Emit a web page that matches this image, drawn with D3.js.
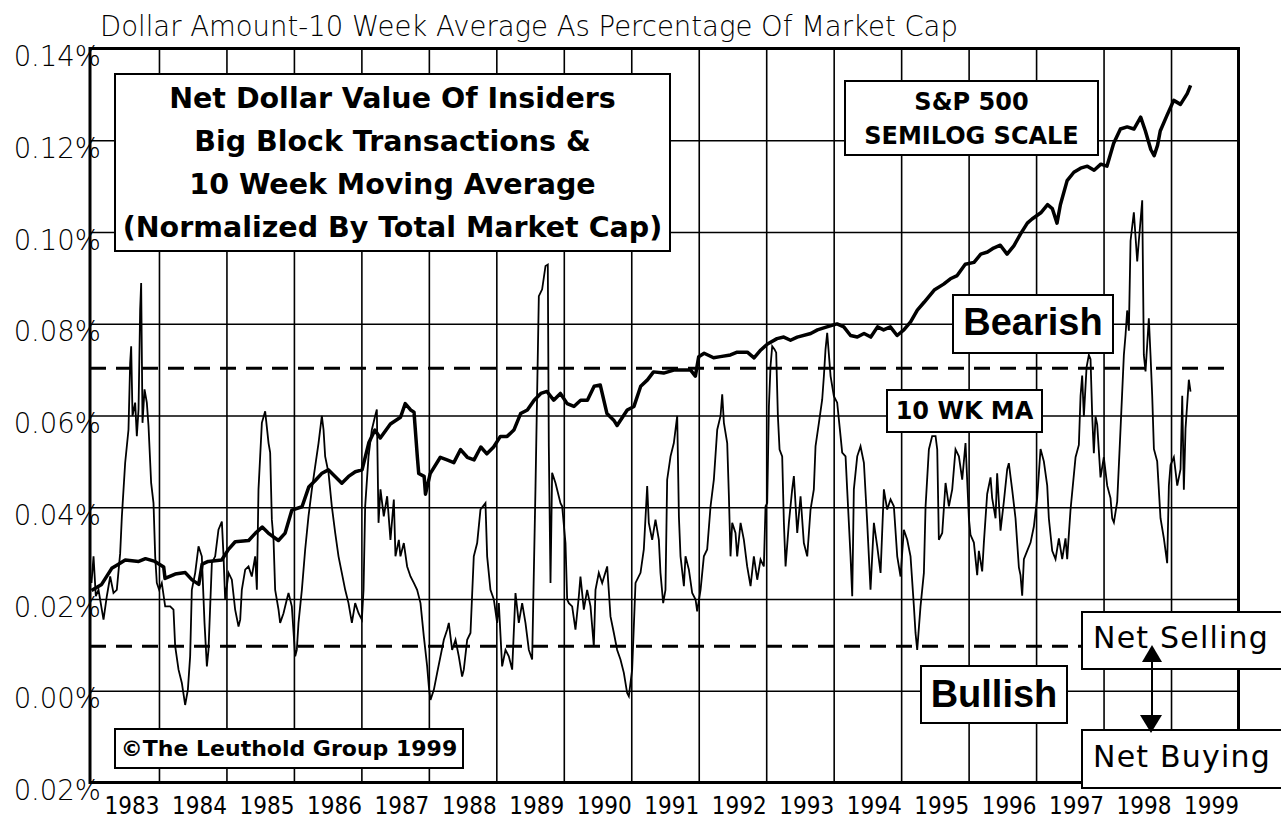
<!doctype html>
<meta charset="utf-8">
<style>
    body { margin: 0; background: #fff; }
    svg { display: block; }
    text { fill: #000; }
    .tick-label { font-family: "DejaVu Sans", sans-serif; font-size: 27.5px; font-weight: 300; }
    .year-label { font-family: "DejaVu Sans Condensed", "DejaVu Sans", sans-serif; font-stretch: condensed; font-size: 24px; }
    .box { fill: #fff; stroke: #000; stroke-width: 2; }
    .bold { font-family: "DejaVu Sans", sans-serif; font-weight: bold; }
    .heavy { font-family: "Liberation Sans", Arial, sans-serif; font-weight: bold; }
    .plain { font-family: "DejaVu Sans", sans-serif; }
</style>
<body>
<script src="https://d3js.org/d3.v7.min.js"></script>
<script>
    // y axis ticks (the bottom label is printed without its minus sign in the original)
    const yTickValues = [-0.02, 0, 0.02, 0.04, 0.06, 0.08, 0.10, 0.12, 0.14];
    const yTickLabels = ['0.02%', '0.00%', '0.02%', '0.04%', '0.06%', '0.08%', '0.10%', '0.12%', '0.14%'];
    const years = [1983, 1984, 1985, 1986, 1987, 1988, 1989, 1990, 1991, 1992, 1993, 1994, 1995, 1996, 1997, 1998, 1999];

    // dashed sentiment thresholds
    const bearishLevel = 0.0703;
    const bullishLevel = 0.0097;

    // S&P 500, index level (drawn on its own semilog scale)
    const sp500 = [
        [1983.00, 150], [1983.15, 154], [1983.30, 165], [1983.40, 168], [1983.50, 171], [1983.70, 170],
        [1983.80, 172], [1983.94, 170], [1984.07, 166], [1984.09, 158], [1984.24, 161], [1984.39, 162],
        [1984.49, 157], [1984.59, 154], [1984.64, 168], [1984.73, 170], [1984.93, 171], [1985.03, 179],
        [1985.13, 185], [1985.33, 186], [1985.43, 192], [1985.53, 197], [1985.62, 192], [1985.77, 186],
        [1985.87, 192], [1985.97, 212], [1986.12, 215], [1986.22, 234], [1986.32, 241], [1986.41, 248],
        [1986.51, 252], [1986.61, 245], [1986.71, 238], [1986.81, 245], [1986.91, 250], [1987.01, 252],
        [1987.11, 283], [1987.20, 299], [1987.28, 289], [1987.43, 307], [1987.58, 316], [1987.65, 335],
        [1987.73, 326], [1987.78, 323], [1987.83, 266], [1987.85, 248], [1987.93, 245], [1987.95, 227],
        [1988.02, 248], [1988.17, 266], [1988.27, 263], [1988.37, 260], [1988.47, 275], [1988.57, 266],
        [1988.67, 263], [1988.77, 278], [1988.86, 270], [1988.96, 278], [1989.06, 291], [1989.16, 291],
        [1989.26, 299], [1989.36, 321], [1989.46, 326], [1989.56, 340], [1989.66, 350], [1989.75, 353],
        [1989.85, 340], [1989.95, 350], [1990.05, 335], [1990.15, 331], [1990.25, 340], [1990.35, 340],
        [1990.45, 361], [1990.54, 363], [1990.64, 321], [1990.74, 312], [1990.79, 305], [1990.94, 326],
        [1991.04, 331], [1991.14, 361], [1991.24, 371], [1991.33, 384], [1991.48, 382], [1991.63, 387],
        [1991.73, 387], [1991.88, 387], [1991.95, 377], [1992.00, 410], [1992.08, 416], [1992.22, 408],
        [1992.32, 410], [1992.47, 413], [1992.57, 418], [1992.72, 418], [1992.82, 408], [1992.92, 422],
        [1993.02, 433], [1993.16, 443], [1993.26, 446], [1993.36, 440], [1993.46, 446], [1993.66, 453],
        [1993.76, 460], [1993.90, 466], [1994.05, 472], [1994.15, 466], [1994.25, 449], [1994.35, 446],
        [1994.45, 453], [1994.55, 446], [1994.65, 466], [1994.74, 460], [1994.84, 466], [1994.94, 449],
        [1995.04, 460], [1995.14, 476], [1995.24, 501], [1995.34, 518], [1995.49, 546], [1995.63, 560],
        [1995.73, 573], [1995.83, 581], [1995.95, 610], [1996.08, 615], [1996.18, 637], [1996.28, 643],
        [1996.37, 654], [1996.47, 662], [1996.57, 637], [1996.67, 660], [1996.77, 695], [1996.87, 728],
        [1996.94, 741], [1997.07, 761], [1997.17, 788], [1997.24, 775], [1997.31, 728], [1997.36, 788],
        [1997.46, 874], [1997.56, 906], [1997.66, 922], [1997.76, 930], [1997.86, 914], [1997.96, 938],
        [1998.05, 930], [1998.15, 1026], [1998.25, 1091], [1998.35, 1101], [1998.45, 1091], [1998.55, 1148],
        [1998.62, 1082], [1998.70, 999], [1998.75, 973], [1998.80, 1017], [1998.84, 1082], [1998.94, 1157],
        [1999.04, 1234], [1999.14, 1213], [1999.24, 1270], [1999.29, 1316]
    ];

    // insiders' net dollar value, 10 week average, % of market cap
    const insider = [
        [1983.000, 0.0235], [1983.030, 0.0293], [1983.064, 0.0206], [1983.104, 0.0220], [1983.153, 0.0177],
        [1983.178, 0.0155], [1983.227, 0.0206], [1983.277, 0.0249], [1983.326, 0.0213], [1983.375, 0.0220],
        [1983.425, 0.0300], [1983.450, 0.0380], [1983.499, 0.0497], [1983.548, 0.0569], [1983.573, 0.0715],
        [1983.588, 0.0751], [1983.608, 0.0599], [1983.647, 0.0628], [1983.672, 0.0555], [1983.697, 0.0613],
        [1983.721, 0.0831], [1983.736, 0.0889], [1983.756, 0.0584], [1983.786, 0.0657], [1983.820, 0.0628],
        [1983.845, 0.0577], [1983.884, 0.0453], [1983.919, 0.0409], [1983.944, 0.0293], [1983.968, 0.0235],
        [1984.003, 0.0220], [1984.042, 0.0235], [1984.092, 0.0184], [1984.166, 0.0184], [1984.215, 0.0177],
        [1984.240, 0.0097], [1984.290, 0.0046], [1984.339, 0.0017], [1984.388, -0.0031], [1984.428, 0.0002],
        [1984.462, 0.0075], [1984.487, 0.0220], [1984.537, 0.0257], [1984.586, 0.0315], [1984.635, 0.0293],
        [1984.675, 0.0148], [1984.710, 0.0053], [1984.734, 0.0089], [1984.784, 0.0279], [1984.833, 0.0293],
        [1984.882, 0.0351], [1984.932, 0.0369], [1984.957, 0.0293], [1984.981, 0.0199], [1985.031, 0.0257],
        [1985.080, 0.0242], [1985.129, 0.0177], [1985.179, 0.0140], [1985.204, 0.0155], [1985.228, 0.0220],
        [1985.278, 0.0264], [1985.327, 0.0271], [1985.376, 0.0249], [1985.426, 0.0293], [1985.451, 0.0220],
        [1985.475, 0.0439], [1985.500, 0.0511], [1985.525, 0.0584], [1985.574, 0.0609], [1985.624, 0.0540],
        [1985.648, 0.0519], [1985.673, 0.0373], [1985.698, 0.0329], [1985.722, 0.0220], [1985.772, 0.0177],
        [1985.796, 0.0148], [1985.846, 0.0169], [1985.895, 0.0199], [1985.920, 0.0213], [1985.969, 0.0184],
        [1986.019, 0.0075], [1986.043, 0.0089], [1986.068, 0.0148], [1986.118, 0.0220], [1986.167, 0.0308],
        [1986.216, 0.0380], [1986.266, 0.0439], [1986.315, 0.0489], [1986.365, 0.0540], [1986.414, 0.0599],
        [1986.439, 0.0569], [1986.463, 0.0511], [1986.513, 0.0475], [1986.562, 0.0402], [1986.612, 0.0344],
        [1986.661, 0.0293], [1986.710, 0.0257], [1986.760, 0.0220], [1986.809, 0.0191], [1986.859, 0.0148],
        [1986.908, 0.0191], [1986.958, 0.0169], [1987.007, 0.0155], [1987.032, 0.0220], [1987.056, 0.0402],
        [1987.106, 0.0511], [1987.155, 0.0569], [1987.204, 0.0599], [1987.229, 0.0613], [1987.254, 0.0366],
        [1987.283, 0.0439], [1987.332, 0.0380], [1987.382, 0.0424], [1987.431, 0.0329], [1987.481, 0.0417],
        [1987.505, 0.0293], [1987.555, 0.0329], [1987.579, 0.0293], [1987.629, 0.0322], [1987.678, 0.0271],
        [1987.728, 0.0249], [1987.777, 0.0235], [1987.826, 0.0220], [1987.876, 0.0191], [1987.925, 0.0119],
        [1987.975, 0.0053], [1988.000, 0.0009], [1988.024, -0.0020], [1988.074, 0.0002], [1988.123, 0.0039],
        [1988.222, 0.0111], [1988.271, 0.0133], [1988.296, 0.0148], [1988.345, 0.0089], [1988.395, 0.0111],
        [1988.444, 0.0075], [1988.493, 0.0031], [1988.518, 0.0046], [1988.568, 0.0111], [1988.617, 0.0126],
        [1988.666, 0.0293], [1988.716, 0.0322], [1988.765, 0.0395], [1988.839, 0.0409], [1988.864, 0.0293],
        [1988.913, 0.0220], [1988.963, 0.0199], [1989.012, 0.0148], [1989.037, 0.0191], [1989.086, 0.0053],
        [1989.136, 0.0089], [1989.185, 0.0075], [1989.235, 0.0046], [1989.284, 0.0213], [1989.333, 0.0148],
        [1989.383, 0.0191], [1989.432, 0.0148], [1989.482, 0.0089], [1989.531, 0.0068], [1989.580, 0.0439],
        [1989.630, 0.0860], [1989.679, 0.0875], [1989.729, 0.0926], [1989.763, 0.0929], [1989.778, 0.0533],
        [1989.803, 0.0235], [1989.827, 0.0475], [1989.877, 0.0453], [1989.951, 0.0409], [1989.976, 0.0402],
        [1990.025, 0.0322], [1990.050, 0.0199], [1990.075, 0.0191], [1990.124, 0.0184], [1990.173, 0.0133],
        [1990.223, 0.0206], [1990.247, 0.0249], [1990.297, 0.0177], [1990.346, 0.0220], [1990.396, 0.0184],
        [1990.445, 0.0097], [1990.470, 0.0220], [1990.519, 0.0257], [1990.569, 0.0235], [1990.643, 0.0271],
        [1990.692, 0.0162], [1990.742, 0.0126], [1990.791, 0.0089], [1990.840, 0.0068], [1990.890, 0.0039],
        [1990.939, -0.0005], [1990.964, -0.0012], [1991.013, 0.0046], [1991.063, 0.0235], [1991.137, 0.0257],
        [1991.186, 0.0308], [1991.236, 0.0446], [1991.260, 0.0366], [1991.310, 0.0329], [1991.359, 0.0373],
        [1991.409, 0.0329], [1991.433, 0.0257], [1991.473, 0.0191], [1991.507, 0.0220], [1991.532, 0.0460],
        [1991.582, 0.0511], [1991.631, 0.0540], [1991.681, 0.0599], [1991.706, 0.0380], [1991.730, 0.0293],
        [1991.780, 0.0228], [1991.804, 0.0293], [1991.854, 0.0264], [1991.903, 0.0213], [1991.953, 0.0199],
        [1991.977, 0.0173], [1992.027, 0.0220], [1992.076, 0.0293], [1992.125, 0.0308], [1992.175, 0.0402],
        [1992.224, 0.0460], [1992.274, 0.0569], [1992.323, 0.0599], [1992.348, 0.0646], [1992.373, 0.0584],
        [1992.422, 0.0540], [1992.447, 0.0424], [1992.471, 0.0293], [1992.496, 0.0366], [1992.545, 0.0344],
        [1992.570, 0.0293], [1992.620, 0.0366], [1992.669, 0.0329], [1992.718, 0.0271], [1992.768, 0.0228],
        [1992.817, 0.0293], [1992.867, 0.0242], [1992.916, 0.0286], [1992.965, 0.0271], [1992.990, 0.0402],
        [1993.015, 0.0409], [1993.040, 0.0620], [1993.064, 0.0708], [1993.089, 0.0751], [1993.124, 0.0744],
        [1993.148, 0.0737], [1993.173, 0.0599], [1993.198, 0.0526], [1993.237, 0.0511], [1993.262, 0.0366],
        [1993.287, 0.0271], [1993.336, 0.0366], [1993.385, 0.0439], [1993.410, 0.0468], [1993.460, 0.0344],
        [1993.509, 0.0424], [1993.558, 0.0322], [1993.608, 0.0293], [1993.657, 0.0395], [1993.706, 0.0439],
        [1993.731, 0.0533], [1993.781, 0.0584], [1993.830, 0.0635], [1993.855, 0.0686], [1993.879, 0.0744],
        [1993.904, 0.0780], [1993.954, 0.0686], [1994.003, 0.0642], [1994.052, 0.0628], [1994.102, 0.0555],
        [1994.126, 0.0519], [1994.176, 0.0511], [1994.200, 0.0439], [1994.250, 0.0293], [1994.275, 0.0206],
        [1994.299, 0.0439], [1994.349, 0.0511], [1994.398, 0.0533], [1994.448, 0.0497], [1994.497, 0.0366],
        [1994.546, 0.0220], [1994.571, 0.0293], [1994.596, 0.0366], [1994.645, 0.0315], [1994.695, 0.0257],
        [1994.744, 0.0439], [1994.793, 0.0395], [1994.843, 0.0417], [1994.892, 0.0402], [1994.942, 0.0293],
        [1994.991, 0.0249], [1995.040, 0.0351], [1995.090, 0.0329], [1995.139, 0.0293], [1995.189, 0.0184],
        [1995.213, 0.0126], [1995.238, 0.0089], [1995.287, 0.0184], [1995.337, 0.0257], [1995.362, 0.0402],
        [1995.411, 0.0526], [1995.460, 0.0555], [1995.510, 0.0555], [1995.535, 0.0526], [1995.559, 0.0329],
        [1995.609, 0.0344], [1995.658, 0.0453], [1995.708, 0.0402], [1995.757, 0.0439], [1995.806, 0.0526],
        [1995.856, 0.0511], [1995.905, 0.0460], [1995.954, 0.0540], [1996.004, 0.0376], [1996.028, 0.0340],
        [1996.078, 0.0323], [1996.127, 0.0252], [1996.152, 0.0305], [1996.201, 0.0260], [1996.226, 0.0323],
        [1996.275, 0.0429], [1996.325, 0.0465], [1996.349, 0.0420], [1996.399, 0.0376], [1996.423, 0.0474],
        [1996.473, 0.0349], [1996.522, 0.0412], [1996.572, 0.0483], [1996.596, 0.0496], [1996.646, 0.0438],
        [1996.695, 0.0376], [1996.745, 0.0269], [1996.769, 0.0252], [1996.794, 0.0207], [1996.819, 0.0287],
        [1996.868, 0.0305], [1996.918, 0.0323], [1996.967, 0.0358], [1997.016, 0.0420], [1997.066, 0.0527],
        [1997.115, 0.0500], [1997.165, 0.0447], [1997.189, 0.0376], [1997.239, 0.0305], [1997.288, 0.0287],
        [1997.338, 0.0332], [1997.387, 0.0287], [1997.436, 0.0332], [1997.461, 0.0287], [1997.510, 0.0394],
        [1997.585, 0.0509], [1997.634, 0.0536], [1997.659, 0.0643], [1997.683, 0.0687], [1997.708, 0.0598],
        [1997.748, 0.0705], [1997.782, 0.0732], [1997.807, 0.0723], [1997.832, 0.0598], [1997.856, 0.0518],
        [1997.881, 0.0598], [1997.906, 0.0580], [1997.955, 0.0465], [1998.004, 0.0509], [1998.054, 0.0447],
        [1998.103, 0.0420], [1998.128, 0.0376], [1998.153, 0.0367], [1998.202, 0.0412], [1998.252, 0.0572],
        [1998.301, 0.0732], [1998.326, 0.0776], [1998.350, 0.0829], [1998.375, 0.0785], [1998.400, 0.0981],
        [1998.449, 0.1043], [1998.499, 0.0936], [1998.523, 0.0981], [1998.573, 0.1069], [1998.597, 0.0732],
        [1998.622, 0.0696], [1998.671, 0.0812], [1998.696, 0.0732], [1998.721, 0.0643], [1998.746, 0.0527],
        [1998.795, 0.0500], [1998.844, 0.0376], [1998.894, 0.0332], [1998.943, 0.0278], [1998.968, 0.0447],
        [1998.993, 0.0492], [1999.042, 0.0509], [1999.092, 0.0447], [1999.141, 0.0483], [1999.166, 0.0643],
        [1999.190, 0.0438], [1999.215, 0.0572], [1999.264, 0.0678], [1999.289, 0.0652]
    ];

    const W = 1281, H = 818;
    const plotLeft = 90, plotRight = 1238.5, plotTop = 48.5, plotBottom = 782.5;

    const x = d3.scaleLinear().domain([1983, 2000]).range([91.5, plotRight]);
    const y = d3.scaleLinear().domain([-0.02, 0.14]).range([plotBottom, plotTop]);
    const ySp = d3.scaleLog().domain([144, 1347]).range([600, 80]);

    const svg = d3.select('body').append('svg').attr('width', W).attr('height', H);

    // title
    svg.append('text').attr('class', 'tick-label').attr('x', 100).attr('y', 36)
        .text('Dollar Amount-10 Week Average As Percentage Of Market Cap');

    // frame
    svg.append('path')
        .attr('d', `M${plotLeft},${plotTop}H${plotRight}V${plotBottom}H${plotLeft}Z`)
        .attr('fill', 'none').attr('stroke', '#000').attr('stroke-width', 3);

    // horizontal grid + % labels
    svg.append('g').attr('transform', `translate(${plotLeft},0)`)
        .call(d3.axisLeft(y).tickValues(yTickValues).tickSize(-(plotRight - plotLeft)).tickPadding(-11)
            .tickFormat((d, i) => yTickLabels[i]))
        .call(g => g.select('.domain').remove())
        .call(g => g.selectAll('line').attr('stroke', '#000').attr('stroke-width', 1.6))
        .call(g => g.selectAll('text').attr('class', 'tick-label').attr('dy', 17));

    // vertical grid at year ends + year labels left of them
    svg.append('g').attr('transform', `translate(0,${plotBottom})`)
        .call(d3.axisBottom(x).tickValues(years.map(d => d + 1)).tickSize(-(plotBottom - plotTop)).tickPadding(31)
            .tickFormat(d => String(d - 1)))
        .call(g => g.select('.domain').remove())
        .call(g => g.selectAll('line').attr('stroke', '#000').attr('stroke-width', 1.6))
        .call(g => g.selectAll('text').attr('class', 'year-label').attr('dy', 0).attr('text-anchor', 'end'));

    // threshold lines
    svg.append('line').attr('x1', plotLeft).attr('x2', 1228).attr('y1', y(bearishLevel)).attr('y2', y(bearishLevel))
        .attr('stroke', '#000').attr('stroke-width', 3).attr('stroke-dasharray', '16,10');
    svg.append('line').attr('x1', plotLeft).attr('x2', 1082).attr('y1', y(bullishLevel)).attr('y2', y(bullishLevel))
        .attr('stroke', '#000').attr('stroke-width', 3).attr('stroke-dasharray', '16,10');

    // S&P 500
    svg.append('path').datum(sp500)
        .attr('d', d3.line().x(d => x(d[0])).y(d => ySp(d[1])))
        .attr('fill', 'none').attr('stroke', '#000').attr('stroke-width', 3.5).attr('stroke-linejoin', 'round');

    // insider series
    svg.append('path').datum(insider)
        .attr('d', d3.line().x(d => x(d[0])).y(d => y(d[1])))
        .attr('fill', 'none').attr('stroke', '#000').attr('stroke-width', 1.8);

    // boxes with text
    function box(x0, y0, x1, y1) {
        svg.append('rect').attr('class', 'box').attr('x', x0).attr('y', y0)
            .attr('width', x1 - x0).attr('height', y1 - y0);
    }
    function label(cls, size, xPos, yPos, txt, anchor) {
        svg.append('text').attr('class', cls).attr('x', xPos).attr('y', yPos)
            .attr('font-size', size).attr('text-anchor', anchor || 'middle').text(txt);
    }

    box(115, 74, 670, 251);
    ['Net Dollar Value Of Insiders', 'Big Block Transactions &', '10 Week Moving Average', '(Normalized By Total Market Cap)']
        .forEach((t, i) => label('bold', 28.5, 392.5, 108 + i * 43, t));

    box(845, 81, 1098, 155);
    label('bold', 24, 971.5, 110, 'S&P 500');
    label('bold', 24, 971.5, 143.5, 'SEMILOG SCALE');

    box(953, 295, 1113, 353);
    label('heavy', 38, 1033, 335, 'Bearish');

    box(887, 390, 1042, 432);
    label('bold', 24, 964.5, 419, '10 WK MA');

    box(921, 666, 1067, 723);
    label('heavy', 38, 994, 707, 'Bullish');

    box(115, 729, 463, 768);
    label('bold', 22, 289, 756, '©The Leuthold Group 1999');

    box(1082, 612, 1295, 669);
    svg.append('text').attr('class', 'plain').attr('x', 1093).attr('y', 648).attr('font-size', 30)
        .attr('letter-spacing', 1.2).text('Net Selling');
    box(1082, 730, 1295, 788);
    svg.append('text').attr('class', 'plain').attr('x', 1093).attr('y', 767).attr('font-size', 30)
        .attr('letter-spacing', 1.2).text('Net Buying');

    // arrow between the two
    svg.append('line').attr('x1', 1152).attr('x2', 1152).attr('y1', 655).attr('y2', 722)
        .attr('stroke', '#000').attr('stroke-width', 2);
    svg.append('path').attr('d', 'M1152,645L1162,662L1142,662Z').attr('fill', '#000');
    svg.append('path').attr('d', 'M1151,733L1162,715L1140,715Z').attr('fill', '#000');
</script>
